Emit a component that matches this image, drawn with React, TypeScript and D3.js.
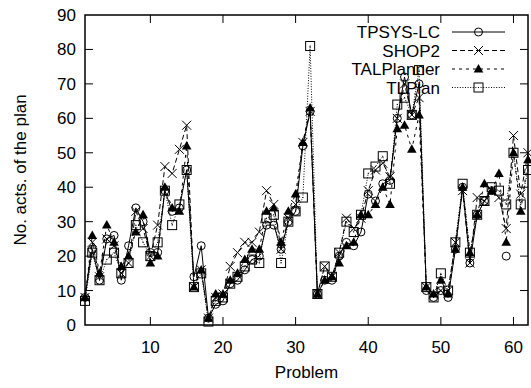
import React from "react";
import * as d3 from "d3";

const problems = d3.range(1, 63);
const tpsys: (number | null)[] = [8,22,13,25,26,13,23,34,30,21,21,39,33,34,45,14,23,2,6,7,12,13,16,19,20,29,29,22,30,33,52,62,9,13,13,20,24,23,27,38,36,41,42,60,72,61,70,10,8,10,8,22,40,18,32,36,39,null,20,null,null,null];
const shop2: (number | null)[] = [8,24,14,25,23,15,18,33,28,20,29,46,44,51,58,11,16,2,8,9,17,21,24,24,27,39,35,22,31,35,53,62,9,17,14,21,31,28,31,39,45,47,43,60,70,61,66,11,9,10,10,24,39,18,37,36,39,37,28,55,38,50];
const talp: (number | null)[] = [8,26,15,29,24,17,20,27,32,18,20,40,34,33,52,11,16,2,9,9,13,15,19,22,22,33,34,24,33,38,53,63,9,13,14,18,23,24,32,32,35,40,35,57,58,51,61,11,9,13,9,22,40,21,32,41,39,44,24,50,33,48];
const tlplan: (number | null)[] = [7,21,13,19,21,15,18,29,24,20,24,39,29,35,45,11,15,1,7,8,12,14,17,19,18,31,32,18,30,33,37,81,9,17,14,21,30,27,32,44,46,49,41,64,66,61,74,11,8,15,10,24,41,21,32,36,40,39,35,50,35,45];
const seriesNames = ["TPSYS-LC", "SHOP2", "TALPlanner", "TLPlan"];
const xTicks = [10, 20, 30, 40, 50, 60];
const yTicks = [0, 10, 20, 30, 40, 50, 60, 70, 80, 90];

const W = 531, H = 388;
const L = 85, R = 528, T = 15, B = 325;
const FONT = "'Liberation Sans', Arial, Helvetica, sans-serif";

const dashes = [null, "5,3", "3,4", "1,1.6"];

function Marker({ kind, x, y }: { kind: number; x: number; y: number }) {
  const s = 4.5;
  if (kind === 0) return <circle cx={x} cy={y} r={4} fill="none" stroke="#000" strokeWidth={1} />;
  if (kind === 1)
    return (
      <path d={`M${x - s},${y - s}L${x + s},${y + s}M${x - s},${y + s}L${x + s},${y - s}`} stroke="#000" strokeWidth={1} />
    );
  if (kind === 2)
    return <path d={`M${x},${y - 5}L${x + 4.8},${y + 3.5}L${x - 4.8},${y + 3.5}Z`} fill="#000" />;
  return (
    <g>
      <rect x={x - 4.5} y={y - 4.5} width={9} height={9} fill="none" stroke="#000" strokeWidth={1} />
      <rect x={x - 0.5} y={y - 0.5} width={1} height={1} fill="#000" />
    </g>
  );
}

export default function App() {
  const x = d3.scaleLinear().domain([1, 62]).range([L, R]);
  const y = d3.scaleLinear().domain([0, 90]).range([B, T]);
  const all = [tpsys, shop2, talp, tlplan];
  const line = d3
    .line<number | null>()
    .defined((d) => d !== null)
    .x((_, i) => x(problems[i]))
    .y((d) => y(d as number));
  const legendRows = [32, 50.5, 69, 87.5];
  return (
    <svg width={W} height={H} style={{ position: "absolute", left: 0, top: 0, background: "#fff" }} fontFamily={FONT}>
      <rect width={W} height={H} fill="#fff" />
      {/* ticks */}
      {yTicks.map((t) => (
        <g key={"y" + t}>
          {t > 0 && t < 90 && (
            <>
              <line x1={L} x2={L + 8} y1={y(t)} y2={y(t)} stroke="#000" strokeWidth={1} />
              <line x1={R - 8} x2={R} y1={y(t)} y2={y(t)} stroke="#000" strokeWidth={1} />
            </>
          )}
          <text x={76} y={y(t) + 6} textAnchor="end" fontSize={17}>{t}</text>
        </g>
      ))}
      {xTicks.map((t) => (
        <g key={"x" + t}>
          <line x1={x(t)} x2={x(t)} y1={B} y2={B - 8} stroke="#000" strokeWidth={1} />
          <line x1={x(t)} x2={x(t)} y1={T} y2={T + 8} stroke="#000" strokeWidth={1} />
          <text x={x(t)} y={353} textAnchor="middle" fontSize={17}>{t}</text>
        </g>
      ))}
      <text x={(L + R) / 2} y={378} textAnchor="middle" fontSize={17}>Problem</text>
      <text transform={`translate(26,${(T + B) / 2}) rotate(-90)`} textAnchor="middle" fontSize={17}>No. acts. of the plan</text>
      {/* series */}
      {all.map((s, k) => (
        <g key={"s" + k}>
          <path d={line(s) || ""} fill="none" stroke="#000" strokeWidth={1} strokeDasharray={dashes[k] || undefined} />
          {s.map((v, i) => (v === null ? null : <Marker key={i} kind={k} x={x(problems[i])} y={y(v)} />))}
        </g>
      ))}
      {/* legend */}
      {seriesNames.map((n, k) => (
        <g key={"l" + n}>
          <text x={440} y={legendRows[k] + 6} textAnchor="end" fontSize={17}>{n}</text>
          <line x1={452} x2={505} y1={legendRows[k]} y2={legendRows[k]} stroke="#000" strokeWidth={1} strokeDasharray={dashes[k] || undefined} />
          <Marker kind={k} x={478.5} y={legendRows[k]} />
        </g>
      ))}
      <rect x={L} y={T} width={R - L} height={B - T} fill="none" stroke="#000" strokeWidth={1.5} />
    </svg>
  );
}
